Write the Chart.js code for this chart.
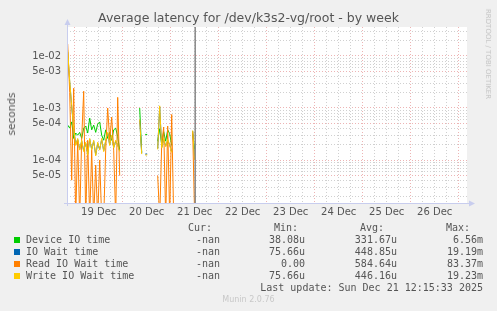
<!DOCTYPE html>
<html>
<head>
<meta charset="utf-8">
<script src="https://cdn.jsdelivr.net/npm/chart.js@4/dist/chart.umd.min.js"></script>
<style>
  body { margin: 0; background: #f0f0f0; width: 497px; height: 311px; overflow: hidden; position: relative; }
  #chart { position: absolute; left: 0; top: 0; }
  .txt { position: absolute; white-space: pre; }
  .title { left: 0; width: 497px; top: 11px; text-align: center; font: 12.5px 'DejaVu Sans', sans-serif; color: #555; line-height: 14px; }
  .ylabel { left: 11px; top: 114px; transform: translate(-50%, -50%) rotate(-90deg); font: 10.5px 'DejaVu Sans', sans-serif; color: #555; }
  .rrd { left: 488px; top: 54px; transform: translate(-50%, -50%) rotate(90deg); font: 7px 'DejaVu Sans', sans-serif; color: #c4c4c4; }
  .mono { font: 10px 'DejaVu Sans Mono', monospace; color: #555; line-height: 12px; }
  .sq { position: absolute; left: 14px; width: 6px; height: 6px; }
  .munin { left: 0; width: 497px; text-align: center; top: 295px; font: 8px 'DejaVu Sans', sans-serif; color: #c8c8c8; }
</style>
</head>
<body>
<canvas id="chart" width="497" height="311"></canvas>
<div class="txt title">Average latency for /dev/k3s2-vg/root - by week</div>
<div class="txt ylabel">seconds</div>
<div class="txt rrd">RRDTOOL / TOBI OETIKER</div>
<div id="legend"></div>
<div class="txt munin">Munin 2.0.76</div>
<script>
// hours since 18 Dec 00:00
const hours = [20.5, 21.5, 22.5, 23.5, 24.5, 25.5, 26.5, 27.5, 28.5, 29.5, 30.5, 31.5, 32.5, 33.5,
  34.5, 35.5, 36.5, 37.5, 38.5, 39.5, 40.5, 41.5, 42.5, 43.5, 44.5, 45.5, 46.5, 47.5,
  56.5, 57.5, 58.5, 59.25, 60.25, 61.5,
  65.5, 66.5, 67.5, 68.5, 69.5, 70.5, 71.5, 72.5, 73.5, 74.5,
  83.0, 84.0];

const deviceIO = [4.7e-4, 4.1e-4, 5.4e-4, 2.6e-4, 3.3e-4, 3.0e-4, 3.4e-4, 2.6e-4, 4.1e-4, 4.5e-4, 3.3e-4, 6.4e-4, 3.8e-4, 4.7e-4,
  3.4e-4, 4.9e-4, 5.4e-4, 3.0e-4, 2.4e-4, 3.8e-4, 2.6e-4, 3.4e-4, 2.4e-4, 3.8e-4, 4.1e-4, 2.8e-4, 1.55e-4, null,
  1.0e-3, 1.4e-4, null, 3.1e-4, 3.1e-4, null,
  2.3e-4, 4.0e-4, 2.0e-4, 3.5e-4, 2.3e-4, 3.8e-4, 3.2e-4, 1.9e-4, null, null,
  3.2e-4, 1.6e-4];

const ioWait = [1.2e-2, 3.2e-3, 1.05e-3, 4.0e-4, 2.0e-4, 2.5e-4, 1.6e-4, 2.3e-4, 1.5e-4, 2.1e-4, 1.3e-4, 2.5e-4, 1.6e-4, 2.3e-4,
  1.25e-4, 2.1e-4, 1.6e-4, 2.5e-4, 1.5e-4, 2.3e-4, 3.3e-4, 1.95e-4, 2.9e-4, 1.75e-4, 2.3e-4, 1.95e-4, 1.5e-4, null,
  5.8e-4, 1.35e-4, null, 1.3e-4, 1.3e-4, null,
  1.65e-4, 1.05e-3, 1.75e-4, 2.5e-4, 1.85e-4, 2.4e-4, 1.95e-4, 1.45e-4, null, null,
  3.6e-4, 1.05e-4];

const readWait = [1.7e-2, 2.0e-3, 4.1e-5, 2.4e-3, 0, 2.4e-4, 0, 2.6e-4, 2.1e-3, 0, 2.4e-4, 0, 1.55e-4, 0,
  8e-5, 0, 1e-4, 0, 0, 1.55e-4, 1e-3, 2.4e-4, 6.7e-4, 1.55e-4, 0, 1.6e-3, 5e-5, null,
  null, null, null, null, null, null,
  5e-5, 0, 2.0e-4, 4.3e-4, 0, 4.5e-4, 0, 7.5e-4, 0, null,
  3.5e-4, 0];

const writeWait = [1.3e-2, 3.4e-3, 1.1e-3, 4.1e-4, 1.9e-4, 2.6e-4, 1.55e-4, 2.4e-4, 1.45e-4, 2.2e-4, 1.25e-4, 2.6e-4, 1.55e-4, 2.4e-4,
  1.2e-4, 2.2e-4, 1.55e-4, 2.6e-4, 1.45e-4, 2.4e-4, 3.4e-4, 1.9e-4, 3.0e-4, 1.7e-4, 2.4e-4, 1.9e-4, 1.45e-4, null,
  6.0e-4, 1.3e-4, null, 1.25e-4, 1.25e-4, null,
  1.6e-4, 1.1e-3, 1.7e-4, 2.6e-4, 1.8e-4, 2.5e-4, 1.9e-4, 1.4e-4, null, null,
  3.7e-4, 1.0e-4];

const nowHour = 84.25; // Sun Dec 21 12:15

const seriesNames = ['Device IO time', 'IO Wait time', 'Read IO Wait time', 'Write IO Wait time'];
const seriesColors = ['#00cc00', '#0066b3', '#ff8000', '#ffcc00'];
const curValues = ['-nan', '-nan', '-nan', '-nan'];
const minValues = ['38.08u', '75.66u', '0.00', '75.66u'];
const avgValues = ['331.67u', '448.85u', '584.64u', '446.16u'];
const maxValues = ['6.56m', '19.19m', '83.37m', '19.23m'];

const dayLabels = ['19 Dec', '20 Dec', '21 Dec', '22 Dec', '23 Dec', '24 Dec', '25 Dec', '26 Dec'];
const yLabelTicks = [1e-2, 5e-3, 1e-3, 5e-4, 1e-4, 5e-5];
const yLabelText = ['1e-02', '5e-03', '1e-03', '5e-04', '1e-04', '5e-05'];

const X_MIN = 20.15, X_MAX = 220.15;
const Y_MIN = 1.49e-5, Y_MAX = 0.0361;

const GRID_MINOR = 'rgba(170,170,170,0.55)';
const GRID_MAJOR = 'rgba(225,130,130,0.6)';
const AXIS_COLOR = '#c8cdee';

// legend (html text)
const legend = document.getElementById('legend');
function addText(text, right, top) {
    const d = document.createElement('div');
    d.className = 'txt mono';
    d.style.right = (497 - right) + 'px';
    d.style.top = top + 'px';
    d.textContent = text;
    legend.appendChild(d);
}
addText('Cur:', 212, 222);
addText('Min:', 298, 222);
addText('Avg:', 384, 222);
addText('Max:', 470, 222);
seriesNames.forEach((name, i) => {
    const top = 234 + i * 12;
    const sq = document.createElement('div');
    sq.className = 'sq';
    sq.style.top = (top + 3) + 'px';
    sq.style.background = seriesColors[i];
    legend.appendChild(sq);
    const lab = document.createElement('div');
    lab.className = 'txt mono';
    lab.style.left = '26px';
    lab.style.top = top + 'px';
    lab.textContent = name;
    legend.appendChild(lab);
    addText(curValues[i], 220, top);
    addText(minValues[i], 305, top);
    addText(avgValues[i], 397, top);
    addText(maxValues[i], 483, top);
});
addText('Last update: Sun Dec 21 12:15:33 2025', 483, 282);

// a log axis cannot show 0, so zero readings are drawn just below the axis floor
function pts(values) {
    return hours.map((h, i) => ({ x: h, y: values[i] === 0 ? Y_MIN * 0.5 : values[i] }));
}

const plotDecor = {
    id: 'plotDecor',
    beforeDraw(chart) {
        const { ctx, chartArea: a } = chart;
        ctx.save();
        ctx.fillStyle = '#ffffff';
        ctx.fillRect(a.left, a.top, a.right - a.left, a.bottom - a.top);
        ctx.restore();
    },
    afterDraw(chart) {
        const { ctx, chartArea: a } = chart;
        ctx.save();
        ctx.strokeStyle = AXIS_COLOR;
        ctx.fillStyle = AXIS_COLOR;
        ctx.lineWidth = 1;
        ctx.beginPath();
        ctx.moveTo(a.left - 3, a.bottom + 0.5);
        ctx.lineTo(a.right + 3, a.bottom + 0.5);
        ctx.moveTo(a.left + 0.5, a.bottom + 3);
        ctx.lineTo(a.left + 0.5, a.top - 3);
        ctx.stroke();
        // arrow heads
        ctx.beginPath();
        ctx.moveTo(a.left + 0.5, a.top - 8);
        ctx.lineTo(a.left - 2.5, a.top - 2);
        ctx.lineTo(a.left + 3.5, a.top - 2);
        ctx.closePath();
        ctx.fill();
        ctx.beginPath();
        ctx.moveTo(a.right + 8, a.bottom + 0.5);
        ctx.lineTo(a.right + 2, a.bottom - 2.5);
        ctx.lineTo(a.right + 2, a.bottom + 3.5);
        ctx.closePath();
        ctx.fill();
        ctx.restore();
    }
};

const lineStyle = { borderWidth: 1, pointRadius: 0, tension: 0, spanGaps: false, fill: false };

new Chart(document.getElementById('chart').getContext('2d'), {
    type: 'line',
    data: {
        datasets: [
            { ...lineStyle, label: seriesNames[0], data: pts(deviceIO), borderColor: seriesColors[0], order: 4 },
            { ...lineStyle, label: seriesNames[1], data: pts(ioWait), borderColor: seriesColors[1], order: 3 },
            { ...lineStyle, label: seriesNames[2], data: pts(readWait), borderColor: seriesColors[2], order: 2 },
            { ...lineStyle, label: seriesNames[3], data: pts(writeWait), borderColor: seriesColors[3], order: 1 },
            { ...lineStyle, label: 'now', data: [{ x: nowHour, y: Y_MIN }, { x: nowHour, y: Y_MAX }], borderColor: '#888888', borderWidth: 1.5, order: 0 }
        ]
    },
    options: {
        responsive: false,
        animation: false,
        devicePixelRatio: 1,
        layout: { padding: { left: 0, top: 27, right: 30, bottom: 88 } },
        plugins: { legend: { display: false }, tooltip: { enabled: false }, title: { display: false } },
        scales: {
            x: {
                type: 'linear',
                min: X_MIN,
                max: X_MAX,
                afterFit(scale) { scale.height = 20; },
                afterBuildTicks(scale) {
                    const t = [];
                    for (let h = 24; h <= 216; h += 6) t.push({ value: h });
                    scale.ticks = t;
                },
                ticks: {
                    autoSkip: false,
                    maxRotation: 0,
                    padding: 3,
                    color: '#555',
                    font: { family: 'DejaVu Sans', size: 10 },
                    callback(v) {
                        if (v % 24 !== 12) return '';
                        return dayLabels[Math.floor(v / 24) - 1] || '';
                    }
                },
                grid: {
                    drawTicks: false,
                    lineWidth: 1,
                    color: (c) => (c.tick && c.tick.value % 24 === 0) ? GRID_MAJOR : GRID_MINOR
                },
                border: { display: false, dash: [1, 2] }
            },
            y: {
                type: 'logarithmic',
                min: Y_MIN,
                max: Y_MAX,
                afterFit(scale) { scale.width = 67; },
                afterBuildTicks(scale) {
                    const t = [];
                    for (let e = -5; e <= -2; e++) {
                        for (let k = 1; k <= 9; k++) {
                            const v = k * Math.pow(10, e);
                            if (v >= Y_MIN && v <= Y_MAX) t.push({ value: v });
                        }
                    }
                    scale.ticks = t;
                },
                ticks: {
                    autoSkip: false,
                    padding: 6,
                    color: '#555',
                    font: { family: 'DejaVu Sans', size: 10 },
                    callback(v) {
                        const i = yLabelTicks.findIndex(y => Math.abs(y - v) / y < 1e-6);
                        return i >= 0 ? yLabelText[i] : '';
                    }
                },
                grid: {
                    drawTicks: false,
                    lineWidth: 1,
                    color: (c) => {
                        if (!c.tick) return GRID_MINOR;
                        const m = c.tick.value / Math.pow(10, Math.floor(Math.log10(c.tick.value) + 1e-9));
                        return (Math.abs(m - 1) < 1e-6 || Math.abs(m - 5) < 1e-6) ? GRID_MAJOR : GRID_MINOR;
                    }
                },
                border: { display: false, dash: [1, 2] }
            }
        }
    },
    plugins: [plotDecor]
});
</script>
</body>
</html>
